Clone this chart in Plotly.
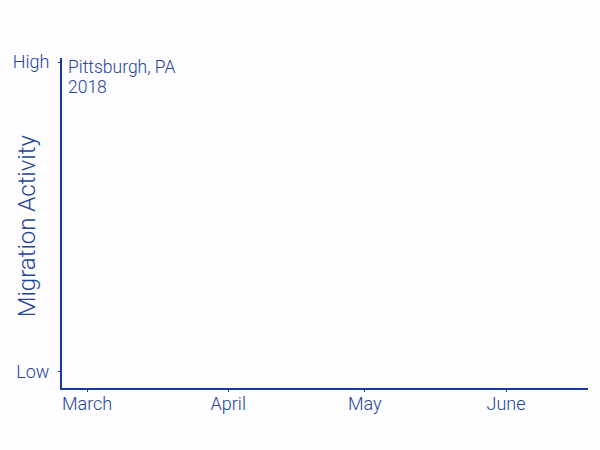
import plotly.graph_objects as go

# axis content (the chart itself is empty apart from the axes)
month_ticks = ["2018-03-01", "2018-04-01", "2018-05-01", "2018-06-01"]
month_labels = ["March", "April", "May", "June"]
date_range = ["2018-02-23 12:00", "2018-06-19"]

activity_ticks = [0, 1]
activity_labels = ["Low", "High"]
activity_range = [-0.052, 1.013]

place = "Pittsburgh, PA"
year = "2018"
y_title = "Migration Activity"

ink = "#24449a"
axis_ink = "#1a3a9a"
bg = "#fdfcfe"
font_family = "Roboto, 'Helvetica Neue', Arial, sans-serif"

fig = go.Figure()

fig.add_trace(go.Scatter(x=[], y=[], mode="lines", showlegend=False))

# place and year, top left inside the plot
for i, line in enumerate([place, year]):
    fig.add_annotation(
        text=line,
        xref="paper", yref="paper",
        x=0.0, y=1.0,
        xanchor="left", yanchor="top",
        xshift=4, yshift=3 - 20 * i,
        align="left",
        showarrow=False,
        font=dict(size=17.5, color=ink, family=font_family, weight=300),
    )

# y title drawn as text so it can sit between the two tick labels
fig.add_annotation(
    text=y_title,
    xref="paper", yref="paper",
    x=0.0, y=0.49,
    xanchor="center", yanchor="middle",
    xshift=-35,
    textangle=-90,
    showarrow=False,
    font=dict(size=24, color=ink, family=font_family, weight=300),
)

fig.update_layout(
    width=600,
    height=450,
    margin=dict(l=62, r=12, t=58, b=62),
    paper_bgcolor=bg,
    plot_bgcolor=bg,
    font=dict(family=font_family, color=ink, weight=300),
    showlegend=False,
)

fig.update_xaxes(
    type="date",
    range=date_range,
    tickvals=month_ticks,
    ticktext=month_labels,
    ticks="outside",
    ticklen=2,
    tickcolor=axis_ink,
    showline=True,
    linecolor=axis_ink,
    linewidth=2,
    showgrid=False,
    zeroline=False,
    automargin=False,
    ticklabelstandoff=-4,
    tickfont=dict(size=18, color=ink, weight=300),
)

fig.update_yaxes(
    range=activity_range,
    tickvals=activity_ticks,
    ticktext=activity_labels,
    ticks="outside",
    ticklen=2,
    tickcolor=axis_ink,
    showline=True,
    linecolor=axis_ink,
    linewidth=2,
    showgrid=False,
    zeroline=False,
    automargin=False,
    ticklabelstandoff=5,
    tickfont=dict(size=18, color=ink, weight=300),
)

fig.write_html(
    "out.html",
    config={"displayModeBar": False},
    post_script="document.body.style.margin='0';",
)
